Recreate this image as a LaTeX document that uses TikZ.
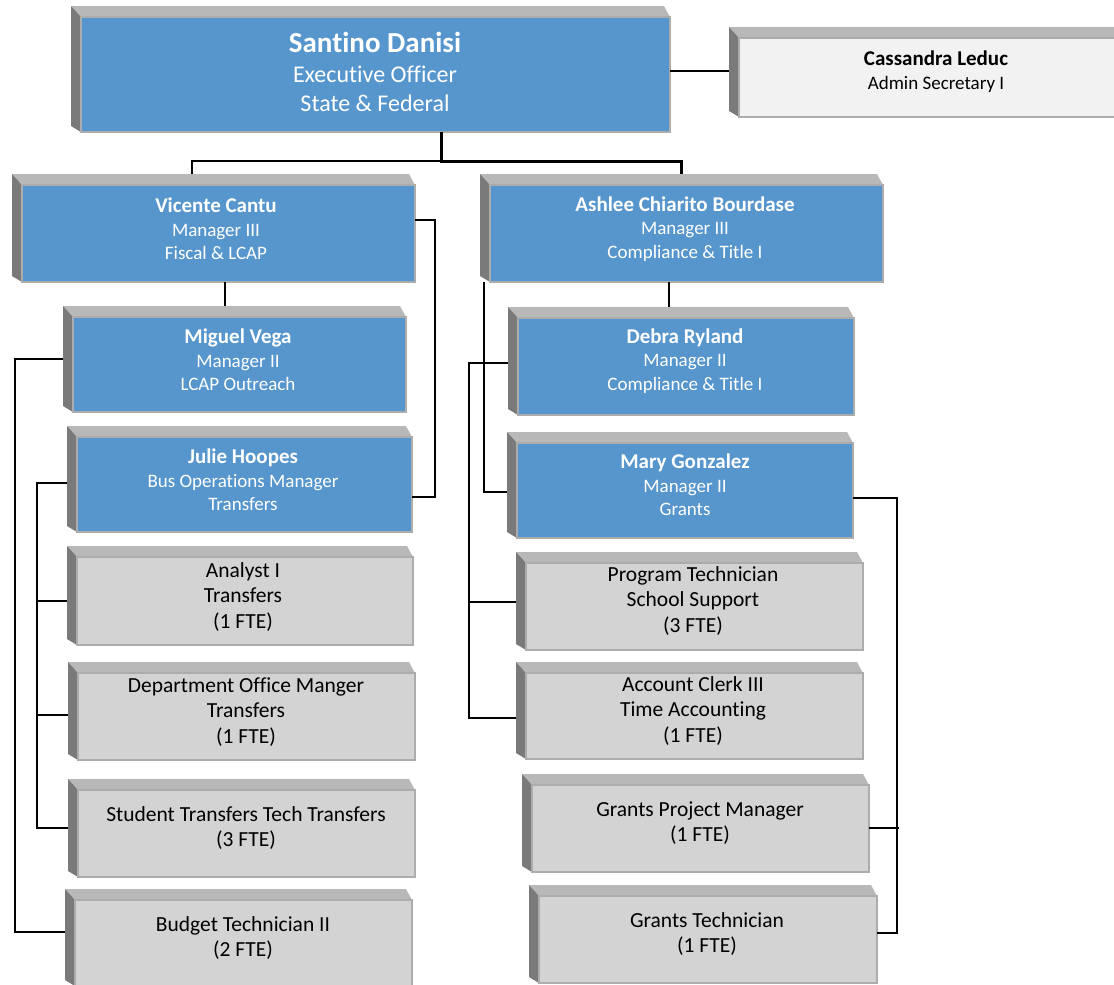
\documentclass[tikz,border=0pt]{standalone}
\usepackage{fontspec}
\setmainfont{Carlito}[Ligatures={NoCommon}]
\definecolor{facebl}{RGB}{86,150,205}
\definecolor{facegr}{RGB}{211,211,211}
\definecolor{facewh}{RGB}{242,242,242}
\definecolor{bevtop}{RGB}{184,184,184}
\definecolor{bevleft}{RGB}{122,122,122}
\definecolor{edgegr}{RGB}{172,172,172}
\tikzset{
  outerbox/.style={rectangle, inner sep=0pt, outer sep=0pt},
  conn/.style={draw=black, line width=2pt},
  trunk/.style={draw=black, line width=3pt},
  bluebox/.style={fill=facebl},
  graybox/.style={fill=facegr},
  whitebox/.style={fill=facewh},
  toptxt/.style={text=white, align=center, inner sep=0pt, font=\fontsize{24}{29.5}\selectfont},
  mgrtxt/.style={text=white, align=center, inner sep=0pt, font=\fontsize{19}{23.5}\selectfont},
  sectxt/.style={text=black, align=center, inner sep=0pt, font=\fontsize{19}{24}\selectfont},
  stafftxt/.style={text=black, align=center, inner sep=0pt, font=\fontsize{21.5}{25.5}\selectfont},
}
\newcommand\bignm[1]{{\bfseries\fontsize{29}{29.5}\selectfont #1}}
\newcommand\orgnm[1]{{\bfseries\fontsize{21}{23.5}\selectfont #1}}
% name, outer x1, outer y1, face x2, face y2, face style
\newcommand\orgbox[6]{%
  \node[outerbox, minimum width={(#4-#2)*1pt}, minimum height={(#5-#3)*1pt}, anchor=north west] (#1) at (#2,#3) {};
  \fill[bevtop] (#1.north west) -- ([xshift=-6pt]#1.north east) -- ([yshift=-11pt]#1.north east) -- ([shift={(10,11)}]#1.north west) -- cycle;
  \fill[bevleft] (#1.north west) -- ([shift={(10,11)}]#1.north west) -- ([xshift=10pt]#1.south west) -- ([yshift=6pt]#1.south west) -- cycle;
  \path[#6, draw=edgegr, line width=1.2pt] ([shift={(10,11)}]#1.north west) rectangle (#1.south east);
}
\begin{document}
\begin{tikzpicture}[x=1pt,y=-1pt]
\useasboundingbox (0,0) rectangle (1114,985);
\clip (0,0) rectangle (1114,985);

% boxes
\orgbox{san}{71}{6}{670}{132}{bluebox}
\orgbox{cass}{729}{27}{1132}{117}{whitebox}
\orgbox{vic}{12}{174}{415}{282}{bluebox}
\orgbox{ash}{480}{174}{883}{282}{bluebox}
\orgbox{mig}{63}{306}{406}{412}{bluebox}
\orgbox{jul}{67}{426}{412}{532}{bluebox}
\orgbox{ana}{67}{546}{413}{645}{graybox}
\orgbox{dep}{68}{662}{415}{760}{graybox}
\orgbox{stu}{68}{779}{415}{877}{graybox}
\orgbox{bud}{65}{889}{412}{986}{graybox}
\orgbox{deb}{508}{307}{854}{415}{bluebox}
\orgbox{mary}{507}{432}{853}{538}{bluebox}
\orgbox{prog}{516}{552}{863}{650}{graybox}
\orgbox{acct}{516}{662}{863}{759}{graybox}
\orgbox{gpm}{522}{774}{869}{872}{graybox}
\orgbox{gt}{529}{885}{877}{983}{graybox}

% texts
\node[toptxt] (sant) at (375,72) {\bignm{Santino Danisi}\\Executive Officer\\State \& Federal};
\node[sectxt] (casst) at (936,72) {\orgnm{Cassandra Leduc}\\Admin Secretary I};
\node[mgrtxt] (vict) at (216,229) {\orgnm{Vicente Cantu}\\Manager III\\Fiscal \& LCAP};
\node[mgrtxt] (asht) at (685,229) {\orgnm{Ashlee Chiarito Bourdase}\\Manager III\\Compliance \& Title I};
\node[mgrtxt] (migt) at (238,360) {\orgnm{Miguel Vega}\\Manager II\\LCAP Outreach};
\node[mgrtxt] (jult) at (243,480) {\orgnm{Julie Hoopes}\\Bus Operations Manager\\Transfers};
\node[stafftxt] (anat) at (243,597) {Analyst I\\Transfers\\(1 FTE)};
\node[stafftxt] (dept) at (246,712) {Department Office Manger\\Transfers\\(1 FTE)};
\node[stafftxt] (stut) at (246,828) {Student Transfers Tech Transfers\\(3 FTE)};
\node[stafftxt] (budt) at (243,938) {Budget Technician II\\(2 FTE)};
\node[mgrtxt] (debt) at (685,361) {\orgnm{Debra Ryland}\\Manager II\\Compliance \& Title I};
\node[mgrtxt] (maryt) at (685,485) {\orgnm{Mary Gonzalez}\\Manager II\\Grants};
\node[stafftxt] (progt) at (693,601) {Program Technician\\School Support\\(3 FTE)};
\node[stafftxt] (acctt) at (693,711) {Account Clerk III\\Time Accounting\\(1 FTE)};
\node[stafftxt] (gpmt) at (700,823) {Grants Project Manager\\(1 FTE)};
\node[stafftxt] (gtt) at (707,934) {Grants Technician\\(1 FTE)};

% connectors
\coordinate (hub) at (441,161);
\draw[conn] (san.east |- 0,71) -- (cass.west |- 0,71);
\draw[trunk] (san.south -| hub) -- (hub) -| (ash.north);
\draw[conn] (vic.north -| 192,0) |- (hub);
\draw[conn] (vic.south -| 225,0) -- (mig.north -| 225,0);
\draw[conn] (vic.east |- 0,220) -- (435,220) |- (jul.east |- 0,497);
\draw[conn] (mig.west |- 0,359) -- (15,359) |- (bud.west |- 0,932);
\draw[conn] (jul.west |- 0,483) -- (37,483) |- (stu.west |- 0,828);
\draw[conn] (37,601) -- (ana.west |- 0,601);
\draw[conn] (37,715) -- (dep.west |- 0,715);
\draw[conn] (ash.south -| 669,0) -- (deb.north -| 669,0);
\draw[conn] (ash.south -| 484,0) |- (mary.west |- 0,492);
\draw[conn] (deb.west |- 0,363) -- (469,363) |- (acct.west |- 0,718);
\draw[conn] (469,602) -- (prog.west |- 0,602);
\draw[conn] (mary.east |- 0,498) -- (897,498) |- (gt.east |- 0,933);
\draw[conn] (gpm.east |- 0,828) -- (899,828);
\end{tikzpicture}
\end{document}
